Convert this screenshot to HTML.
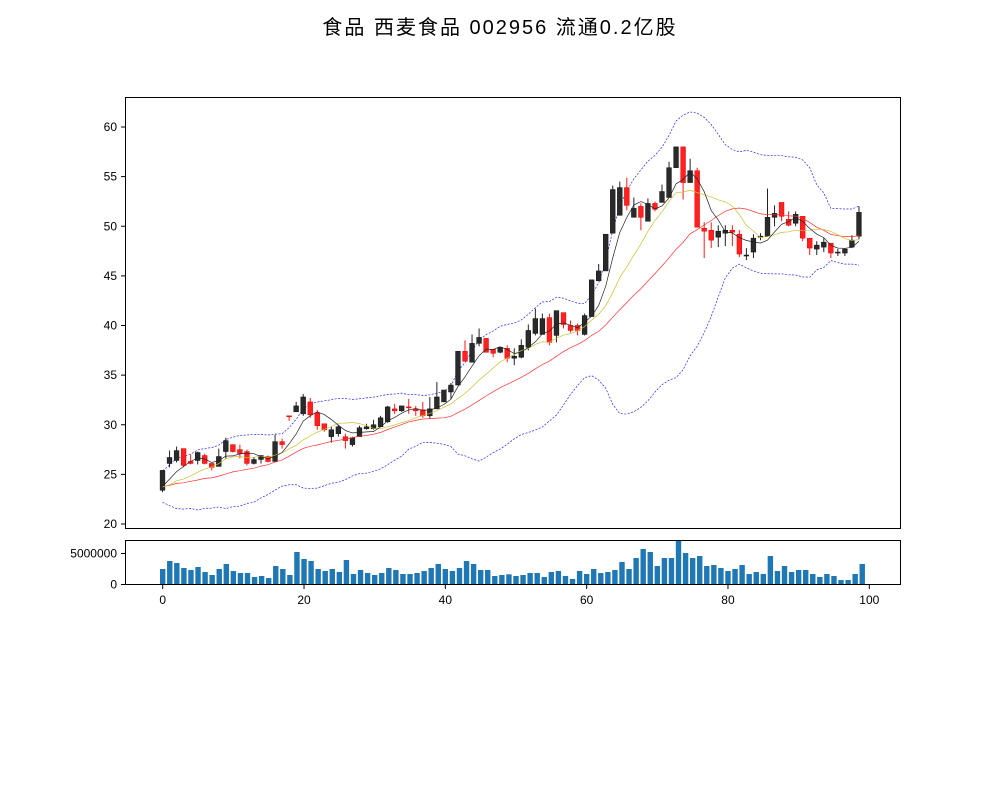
<!DOCTYPE html>
<html><head><meta charset="utf-8">
<style>
html,body{margin:0;padding:0;background:#fff;}
svg{display:block;}
text{font-family:"WenQuanYi Zen Hei","Liberation Sans",sans-serif;}
</style></head>
<body>
<svg id="s" width="1000" height="800" xmlns="http://www.w3.org/2000/svg">
<rect width="1000" height="800" fill="#fff"/>
<text x="500" y="34" font-size="20" letter-spacing="2" text-anchor="middle" fill="#000">食品 西麦食品 002956 流通0.2亿股</text>
<g id="main"></g>
<g id="vol"></g>
<rect x="125.5" y="97.5" width="775" height="431" fill="none" stroke="#000" stroke-width="1"/>
<rect x="125.5" y="540.5" width="775" height="44" fill="none" stroke="#000" stroke-width="1"/>
<g id="ax" font-size="12" fill="#000"></g>
</svg>
<script>
var D=[[23.4,25.4,25.4,23.2],[26.1,26.7,27.4,25.7],[26.4,27.4,27.8,26.2],[27.6,25.9,27.6,25.7],[26.3,26.1,27.0,26.0],[26.4,27.2,27.3,26.0],[26.9,26.1,27.1,26.0],[26.1,25.7,26.1,25.4],[25.8,26.8,27.6,25.8],[27.3,28.4,28.7,26.6],
[28.0,27.3,28.0,27.2],[27.5,27.1,28.0,26.6],[27.3,26.1,27.5,25.9],[26.1,26.5,26.7,26.0],[26.5,26.9,26.9,26.1],[26.8,26.3,26.9,26.2],[26.3,28.3,29.0,26.2],[28.3,28.0,28.6,27.6],[30.9,30.85,30.9,30.4],[31.3,31.9,32.3,31.3],
[31.1,32.8,33.1,30.9],[32.3,31.0,32.7,30.7],[31.2,29.9,31.5,29.5],[30.1,29.5,30.1,29.3],[28.8,29.5,29.8,28.2],[29.1,29.8,30.0,28.8],[28.8,28.4,29.1,27.6],[28.0,28.7,28.8,27.8],[28.8,29.7,29.9,28.8],[29.6,29.8,30.1,29.5],
[29.6,30.0,30.5,29.5],[29.8,30.7,30.9,29.8],[30.3,31.8,31.9,30.2],[31.6,31.4,32.1,31.1],[31.4,31.9,31.9,31.3],[31.8,31.7,32.6,31.1],[31.6,31.4,31.9,30.9],[31.5,30.9,32.3,30.7],[30.9,31.6,32.8,30.6],[31.6,32.8,34.3,31.6],
[32.3,33.5,33.5,32.3],[33.3,34.0,34.2,32.6],[34.0,37.4,37.4,34.0],[37.4,36.4,38.5,36.4],[36.3,38.2,39.1,36.3],[38.2,38.8,39.7,37.9],[38.7,37.3,38.7,37.3],[37.6,37.2,37.6,36.8],[37.3,37.8,37.8,37.2],[37.7,36.7,38.0,36.3],
[36.7,36.9,37.7,36.0],[36.8,38.0,38.6,36.7],[37.8,39.5,40.1,37.5],[39.2,40.7,41.7,39.0],[39.1,40.7,41.2,39.1],[40.8,38.3,41.2,38.0],[39.0,41.5,41.5,38.3],[41.3,40.1,41.3,39.7],[40.0,39.5,40.5,39.3],[40.0,39.5,40.2,39.0],
[39.1,41.0,41.2,39.0],[40.9,44.6,44.6,40.9],[44.5,45.5,46.2,44.5],[45.5,49.2,49.2,45.5],[49.3,53.7,54.1,49.3],[51.1,53.9,54.5,51.1],[53.9,52.1,54.9,51.6],[50.9,51.8,52.9,50.9],[52.0,50.9,52.3,49.6],[50.5,52.3,52.8,50.5],
[52.3,51.7,52.5,51.5],[52.4,53.5,54.2,52.4],[52.9,55.9,56.5,52.9],[55.9,58.0,58.0,55.9],[58.0,54.4,58.0,52.7],[54.4,55.6,56.8,54.4],[55.6,49.9,55.9,49.9],[49.8,49.5,50.4,46.8],[49.6,48.6,50.4,47.8],[48.9,49.5,50.1,47.9],
[49.3,49.6,50.1,48.0],[49.6,49.4,50.1,48.0],[49.2,47.2,49.6,46.9],[47.0,47.1,47.8,46.6],[47.4,48.8,49.2,46.8],[48.9,49.0,49.3,48.6],[49.0,50.9,53.8,49.0],[50.9,51.3,52.1,50.0],[52.4,51.0,52.4,50.5],[50.7,50.1,51.5,50.0],
[50.3,51.2,51.5,50.0],[51.0,48.8,51.0,48.5],[48.8,47.8,48.8,47.1],[47.7,48.1,48.5,47.1],[47.9,48.4,48.8,47.4],[48.3,47.3,48.3,46.8],[47.3,47.4,47.7,47.0],[47.3,47.7,47.8,47.0],[47.9,48.6,49.1,47.8],[49.0,51.4,52.0,48.7]];
var VT=[102,78,84,99,105,96,111,120,102,87,108,114,114,126,123,129,93,102,120,51,72,78,102,108,102,111,75,117,105,114,120,114,99,105,117,117,114,108,99,87,102,108,99,78,87,105,105,123,120,
118,123,120,114,114,126,111,108,123,132,108,117,102,114,111,105,81,102,69,42,51,93,69,69,18,54,69,63,93,90,99,108,102,90,117,111,117,63,108,93,111,105,105,117,126,117,123,135,135,117,87];
var H=[24.5,23.2,24.8,23.0,24.6,22.9,24.7,23.1,24.4,23.0,24.6,23.3,24.2,22.8,23.5,23.0,23.6,23.3,23.6];
function X(i){return 162.5+7.035*i;}
function XV(i){return 162.7+7.066*i;}
function Y(v){return 524-(v-20)*9.925;}
var NS="http://www.w3.org/2000/svg";
function el(p,t,a){var e=document.createElementNS(NS,t);for(var k in a)e.setAttribute(k,a[k]);p.appendChild(e);return e;}
var m=document.getElementById('main'),vg=document.getElementById('vol'),ax=document.getElementById('ax');
var C=H.concat(D.map(function(d){return d[1];}));var off=H.length;
function ma(n,i){var s=0;for(var k=i-n+1;k<=i;k++)s+=C[k];return s/n;}
function sd(n,i){var mu=ma(n,i),s=0;for(var k=i-n+1;k<=i;k++)s+=(C[k]-mu)*(C[k]-mu);return Math.sqrt(s/(n-1));}
function line(f,col,w,dash){var p=[];for(var i=0;i<D.length;i++)p.push(X(i).toFixed(1)+','+Y(f(i+off)).toFixed(1));var a={points:p.join(' '),fill:'none',stroke:col,'stroke-width':w};if(dash)a['stroke-dasharray']=dash;el(m,'polyline',a);}
line(function(i){return ma(20,i)+2*sd(20,i);},'#2222ff',0.7,'2,1.5');
line(function(i){return ma(20,i)-2*sd(20,i);},'#2222ff',0.7,'2,1.5');
for(var i=0;i<D.length;i++){var d=D[i],up=d[1]>=d[0];var col=up?'#222':'#ff1a1a';var x=X(i);
el(m,'line',{x1:x,x2:x,y1:Y(d[2]),y2:Y(d[3]),stroke:col,'stroke-width':1});
var t=Y(Math.max(d[0],d[1])),b=Y(Math.min(d[0],d[1]));if(b-t<1)b=t+1;
el(m,'rect',{x:x-2.4,y:t,width:4.8,height:b-t,fill:up?'#2a2a2a':'#ff2020',stroke:up?'#111':'#e00','stroke-width':0.5});}
line(function(i){return ma(20,i);},'#ff3030',0.7);
line(function(i){return ma(10,i);},'#c8c030',0.7);
line(function(i){return ma(5,i);},'#222',0.7);
for(var i=0;i<VT.length;i++){var ty=535+VT[i]/3;el(vg,'rect',{x:XV(i)-2.7,y:ty,width:5.4,height:585-ty,fill:'#1f77b4'});}
for(var v=20;v<=60;v+=5){var y=Y(v);el(ax,'line',{x1:121,x2:125,y1:y,y2:y,stroke:'#000'});var tt=el(ax,'text',{x:117,y:y+4,'text-anchor':'end'});tt.textContent=v;}
[[584.5,'0'],[553.5,'5000000']].forEach(function(a){el(ax,'line',{x1:121,x2:125,y1:a[0],y2:a[0],stroke:'#000'});var tt=el(ax,'text',{x:117,y:a[0]+4,'text-anchor':'end'});tt.textContent=a[1];});
for(var v=0;v<=100;v+=20){var x=162.7+7.066*v;el(ax,'line',{x1:x,x2:x,y1:585,y2:589,stroke:'#000'});var tt=el(ax,'text',{x:x,y:604,'text-anchor':'middle'});tt.textContent=v;}
</script>
</body></html>
